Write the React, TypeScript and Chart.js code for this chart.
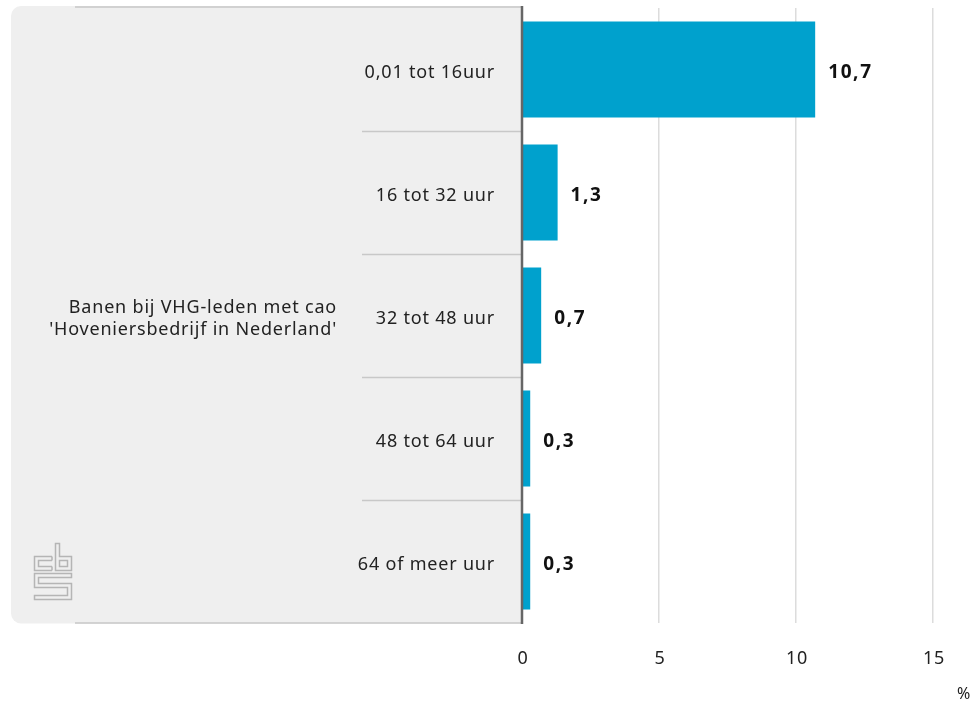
import React, { useEffect, useRef } from "react";
import { Chart, registerables } from "chart.js";

Chart.register(...registerables);

const categories = ["0,01 tot 16uur", "16 tot 32 uur", "32 tot 48 uur", "48 tot 64 uur", "64 of meer uur"];
const values = [10.7, 1.3, 0.7, 0.3, 0.3];
const valueLabels = ["10,7", "1,3", "0,7", "0,3", "0,3"];
const groupLabel = ["Banen bij VHG-leden met cao", "'Hoveniersbedrijf in Nederland'"];
const xTicks = [0, 5, 10, 15];
const unitLabel = "%";

const FONT = "'Noto Sans', 'Open Sans', sans-serif";

const decorPlugin = {
  id: "decor",
  beforeDraw(chart: any) {
    const { ctx, chartArea } = chart;
    const { left, top, bottom } = chartArea;
    ctx.save();
    // panel
    const px = 11, py = top - 2, pw = left - px, ph = bottom - py + 0.5, r = 10;
    ctx.fillStyle = "#efefef";
    ctx.beginPath();
    ctx.moveTo(px + r, py);
    ctx.lineTo(px + pw, py);
    ctx.lineTo(px + pw, py + ph);
    ctx.lineTo(px + r, py + ph);
    ctx.arcTo(px, py + ph, px, py + ph - r, r);
    ctx.lineTo(px, py + r);
    ctx.arcTo(px, py, px + r, py, r);
    ctx.closePath();
    ctx.fill();
    // top and bottom lines
    ctx.strokeStyle = "#c8c8c8";
    ctx.lineWidth = 1.5;
    ctx.beginPath();
    ctx.moveTo(75, top - 1);
    ctx.lineTo(left, top - 1);
    ctx.moveTo(75, bottom);
    ctx.lineTo(left, bottom);
    ctx.stroke();
    // separators
    const yScale = chart.scales.y;
    ctx.beginPath();
    for (let i = 1; i < categories.length; i++) {
      const y = (yScale.getPixelForValue(i - 1) + yScale.getPixelForValue(i)) / 2;
      ctx.moveTo(362, Math.round(y) + 0.5);
      ctx.lineTo(left, Math.round(y) + 0.5);
    }
    ctx.stroke();
    // category labels
    ctx.fillStyle = "#222";
    ctx.font = `18px ${FONT}`;
    ctx.letterSpacing = "0.8px";
    ctx.textAlign = "right";
    ctx.textBaseline = "alphabetic";
    categories.forEach((c, i) => {
      ctx.fillText(c, 495, yScale.getPixelForValue(i) + 8);
    });
    // group label
    const mid = yScale.getPixelForValue(2);
    ctx.fillText(groupLabel[0], 337, mid - 3);
    ctx.fillText(groupLabel[1], 337, mid + 19);
    // logo
    ctx.letterSpacing = "0px";
    ctx.strokeStyle = "#b5b5b5";
    ctx.lineWidth = 1.5;
    ctx.beginPath();
    // c
    ctx.moveTo(52, 556.5); ctx.lineTo(34.5, 556.5); ctx.lineTo(34.5, 570.5); ctx.lineTo(52, 570.5);
    ctx.moveTo(52, 560.5); ctx.lineTo(38.5, 560.5); ctx.lineTo(38.5, 566.5); ctx.lineTo(52, 566.5);
    ctx.moveTo(52, 556.5); ctx.lineTo(52, 560.5);
    ctx.moveTo(52, 566.5); ctx.lineTo(52, 570.5);
    // b
    ctx.moveTo(55.5, 543.5); ctx.lineTo(59.5, 543.5); ctx.lineTo(59.5, 556.5); ctx.lineTo(71.5, 556.5);
    ctx.lineTo(71.5, 570.5); ctx.lineTo(55.5, 570.5); ctx.closePath();
    ctx.rect(59.5, 560.5, 8, 6);
    // S
    ctx.moveTo(34.5, 573.5); ctx.lineTo(71.5, 573.5); ctx.lineTo(71.5, 577.5); ctx.lineTo(38.5, 577.5);
    ctx.lineTo(38.5, 583.5); ctx.lineTo(71.5, 583.5); ctx.lineTo(71.5, 599.5); ctx.lineTo(34.5, 599.5);
    ctx.lineTo(34.5, 595.5); ctx.lineTo(67.5, 595.5); ctx.lineTo(67.5, 587.5); ctx.lineTo(34.5, 587.5);
    ctx.closePath();
    ctx.stroke();
    ctx.restore();
  },
  afterDatasetsDraw(chart: any) {
    const { ctx, chartArea } = chart;
    const { left, top, bottom } = chartArea;
    const xScale = chart.scales.x;
    const yScale = chart.scales.y;
    ctx.save();
    // axis line
    ctx.strokeStyle = "#666";
    ctx.lineWidth = 2.5;
    ctx.beginPath();
    ctx.moveTo(left, top - 2);
    ctx.lineTo(left, bottom + 1);
    ctx.stroke();
    // value labels
    ctx.fillStyle = "#111";
    ctx.font = `bold 19px ${FONT}`;
    ctx.letterSpacing = "1.6px";
    ctx.textAlign = "left";
    ctx.textBaseline = "alphabetic";
    values.forEach((v, i) => {
      const x = xScale.getPixelForValue(v) + 13;
      const y = yScale.getPixelForValue(i) + 8;
      ctx.fillText(valueLabels[i], x, y);
    });
    // x tick labels
    ctx.fillStyle = "#222";
    ctx.font = `18px ${FONT}`;
    ctx.letterSpacing = "0.8px";
    ctx.textAlign = "center";
    xTicks.forEach((t) => {
      ctx.fillText(String(t), xScale.getPixelForValue(t) + 1, 664);
    });
    // unit
    ctx.textAlign = "right";
    ctx.font = `16px ${FONT}`;
    ctx.fillText(unitLabel, 971, 699);
    ctx.restore();
  },
};

export default function App() {
  const ref = useRef<HTMLCanvasElement>(null);
  useEffect(() => {
    if (!ref.current) return;
    const chart = new Chart(ref.current, {
      type: "bar",
      data: {
        labels: categories,
        datasets: [
          {
            data: values,
            backgroundColor: "#00a1cd",
            borderWidth: 0,
            categoryPercentage: 0.78,
            barPercentage: 1,
          },
        ],
      },
      options: {
        indexAxis: "y",
        animation: false,
        responsive: false,
        maintainAspectRatio: false,
        layout: { padding: { top: 8, right: 44, left: 0, bottom: 0 } },
        plugins: { legend: { display: false }, tooltip: { enabled: false } },
        scales: {
          x: {
            min: 0,
            max: 15,
            afterBuildTicks: (s: any) => {
              s.ticks = xTicks.map((v) => ({ value: v }));
            },
            afterFit: (s: any) => {
              s.height = 81;
            },
            grid: { color: "#dcdcdc", lineWidth: 1.5, drawTicks: false },
            border: { display: false },
            ticks: { display: false },
          },
          y: {
            afterFit: (s: any) => {
              s.width = 522;
            },
            grid: { display: false, drawTicks: false },
            border: { display: false },
            ticks: { display: false },
          },
        },
      },
      plugins: [decorPlugin],
    });
    return () => chart.destroy();
  }, []);
  return (
    <div style={{ position: "fixed", left: 0, top: 0, width: 977, height: 704, background: "#fff" }}>
      <canvas ref={ref} width={977} height={704} style={{ display: "block" }} />
    </div>
  );
}
